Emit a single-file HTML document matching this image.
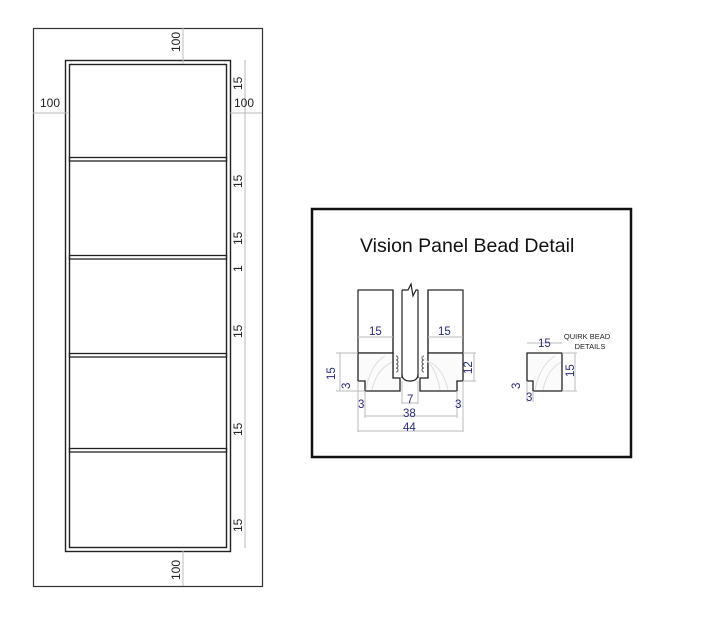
<!DOCTYPE html>
<html><head><meta charset="utf-8"><style>
html,body{margin:0;padding:0;background:#fff;}
svg{display:block;font-family:"Liberation Sans",Arial,sans-serif;}
</style></head><body>
<svg width="720" height="637" viewBox="0 0 720 637" xmlns="http://www.w3.org/2000/svg">
<rect width="720" height="637" fill="#fff"/>
<!-- door -->
<rect x="33.5" y="28.5" width="229" height="558" fill="none" stroke="#333" stroke-width="1.2"/>
<rect x="65.5" y="60.5" width="165" height="491" fill="none" stroke="#222" stroke-width="1.4"/>
<rect x="69.5" y="64.5" width="157" height="483" fill="none" stroke="#222" stroke-width="1.4"/>
<g fill="none" stroke="#222" stroke-width="1.3">
<rect x="69.5" y="157.5" width="157" height="3.5"/>
<rect x="69.5" y="255.5" width="157" height="3.5"/>
<rect x="69.5" y="353.5" width="157" height="3.5"/>
<rect x="69.5" y="448.5" width="157" height="3.5"/>
</g>
<!-- dims door -->
<g stroke="#bbb" stroke-width="1" fill="none">
<line x1="183" y1="28" x2="183" y2="64"/>
<line x1="183" y1="551" x2="183" y2="586"/>
<line x1="33" y1="113" x2="68" y2="113"/>
<line x1="230" y1="113" x2="262" y2="113"/>
<line x1="245" y1="60" x2="245" y2="548"/>
</g>
<g fill="#222" font-size="12">
<text x="40" y="107">100</text>
<text x="234" y="107">100</text>
<text transform="translate(180,52) rotate(-90)">100</text>
<text transform="translate(180,580) rotate(-90)">100</text>
<text transform="translate(242,90) rotate(-90)">15</text>
<text transform="translate(242,188) rotate(-90)">15</text>
<text transform="translate(242,245) rotate(-90)">15</text>
<text transform="translate(242,272) rotate(-90)">1</text>
<text transform="translate(242,338) rotate(-90)">15</text>
<text transform="translate(242,436) rotate(-90)">15</text>
<text transform="translate(242,532) rotate(-90)">15</text>
</g>
<!-- detail box -->
<rect x="312" y="209" width="319" height="248" fill="none" stroke="#111" stroke-width="2.5"/>
<text x="360" y="252" font-size="19.5" fill="#111">Vision Panel Bead Detail</text>
<!-- blocks -->
<g fill="none" stroke="#222" stroke-width="1.2">
<rect x="358" y="290" width="35" height="63"/>
<rect x="428" y="290" width="35" height="63"/>
<line x1="393" y1="290" x2="393" y2="378"/>
<line x1="402" y1="290" x2="402" y2="378"/>
<line x1="418" y1="290" x2="418" y2="378"/>
<line x1="428" y1="290" x2="428" y2="378"/>
<path d="M402 290 L408 290 L411 284 L413 296 L416 290 L418 290" fill="#fff"/>
<path d="M402 374 Q402 381 410 381 Q418 381 418 374"/>
</g>
<!-- beads -->
<g fill="#fbfbfb" stroke="#222" stroke-width="1.3">
<path d="M358 353 H393 V378 H400 V391 H365 V381 H358 Z"/>
<path d="M428 353 H463 V381 H457 V391 H420 V378 H428 Z"/>
<path d="M527 353 H562 V391 H533 V381 H527 Z"/>
</g>
<g stroke="#444" stroke-width="0.9" fill="none">
<path d="M396 356 a2 2 0 0 1 0 4 a2 2 0 0 1 0 4 a2 2 0 0 1 0 4 a2 2 0 0 1 0 4"/>
<path d="M424 356 a2 2 0 0 0 0 4 a2 2 0 0 0 0 4 a2 2 0 0 0 0 4 a2 2 0 0 0 0 4"/>
</g>
<g stroke="#ddd" stroke-width="1" fill="none">
<path d="M366 390 Q370 365 385 356"/><path d="M372 390 Q376 370 392 362"/>
<path d="M440 390 Q436 365 421 356"/><path d="M448 390 Q444 370 430 362"/>
<path d="M535 390 Q540 365 555 356"/><path d="M543 390 Q547 370 561 362"/>
</g>
<!-- dims detail -->
<g stroke="#bbb" stroke-width="1" fill="none">
<line x1="358" y1="337" x2="393" y2="337"/>
<line x1="428" y1="337" x2="463" y2="337"/>
<line x1="336" y1="353" x2="358" y2="353"/><line x1="336" y1="391" x2="365" y2="391"/>
<line x1="340" y1="353" x2="340" y2="391"/>
<line x1="463" y1="353" x2="476" y2="353"/><line x1="463" y1="381" x2="476" y2="381"/>
<line x1="474" y1="353" x2="474" y2="381"/>
<line x1="358" y1="381" x2="358" y2="432"/><line x1="463" y1="381" x2="463" y2="432"/>
<line x1="365" y1="391" x2="365" y2="418"/><line x1="457" y1="391" x2="457" y2="418"/>
<line x1="365" y1="416" x2="457" y2="416"/>
<line x1="358" y1="431" x2="463" y2="431"/>
<line x1="402" y1="381" x2="402" y2="404"/><line x1="418" y1="381" x2="418" y2="404"/>
<line x1="402" y1="403" x2="418" y2="403"/>
<line x1="527" y1="343" x2="562" y2="343"/>
<line x1="562" y1="353" x2="577" y2="353"/><line x1="562" y1="391" x2="577" y2="391"/>
<line x1="575" y1="353" x2="575" y2="391"/>
<line x1="527" y1="381" x2="527" y2="402"/><line x1="533" y1="391" x2="533" y2="402"/>
</g>
<g fill="#2a2a7a" font-size="11.5">
<text x="369" y="335">15</text>
<text x="438" y="335">15</text>
<text transform="translate(335,380) rotate(-90)">15</text>
<text transform="translate(350,389) rotate(-90)">3</text>
<text transform="translate(472,374) rotate(-90)">12</text>
<text x="358" y="408">3</text>
<text x="455" y="408">3</text>
<text x="407" y="403">7</text>
<text x="403" y="417">38</text>
<text x="403" y="431">44</text>
<text x="538" y="347">15</text>
<text transform="translate(574,377) rotate(-90)">15</text>
<text transform="translate(520,389) rotate(-90)">3</text>
<text x="526" y="401">3</text>
</g>
<g fill="#222" font-size="7.5" text-anchor="middle">
<text x="587" y="339">QUIRK BEAD</text>
<text x="590" y="349">DETAILS</text>
</g>
</svg>
</body></html>
